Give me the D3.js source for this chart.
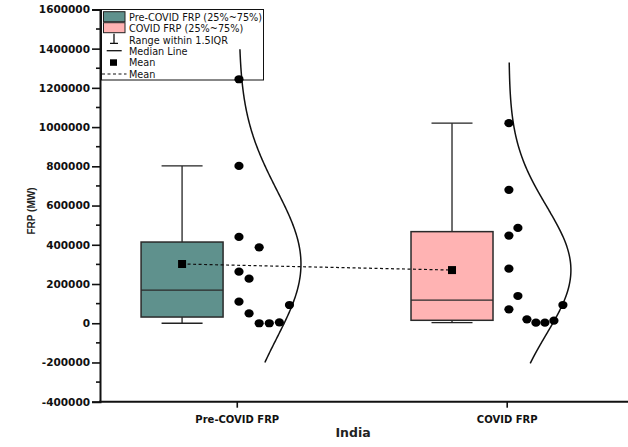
<!DOCTYPE html>
<html><head><meta charset="utf-8">
<script src="https://cdn.jsdelivr.net/npm/d3@7"></script>
<style>body{margin:0;background:#fff}svg{display:block}</style>
</head><body>
<svg id="chart" width="628" height="447"></svg>
<script>
const categories = ["Pre-COVID FRP", "COVID FRP"];
const seriesNames = ["Pre-COVID FRP (25%~75%)", "COVID FRP (25%~75%)"];
const boxColors = ["#5f918d", "#ffb3b3"];
const q1 = [31600, 15000];
const medians = [169000, 118000];
const q3 = [414000, 467000];
const whiskerLow = [0, 3000];
const whiskerHigh = [802000, 1020000];
const means = [302000, 271000];
const preValues = [1244000, 802000, 440000, 387000, 263000, 227000, 110000, 50000, 0, 0, 4600, 93000];
const preSlots = [0, 0, 0, 2, 0, 1, 0, 1, 2, 3, 4, 5];
const covidValues = [1020000, 680000, 486000, 447000, 278000, 139000, 71000, 20000, 3000, 3000, 13000, 93000];
const covidSlots = [0, 0, 1, 0, 0, 1, 0, 2, 3, 4, 5, 6];
const curveLow = [-200000, -205000];
const curveHigh = [1397000, 1329000];
const yTickValues = [-400000, -200000, 0, 200000, 400000, 600000, 800000, 1000000, 1200000, 1400000, 1600000];
const xTitle = "India";
const yTitle = "FRP (MW)";

(function () {
const svg = d3.select("#chart");
const pLeft = 100, pRight = 628, pTop = 9.4, pBottom = 401.7;
const y = d3.scaleLinear().domain([-400000, 1600000]).range([pBottom, pTop]);
const x = d3.scalePoint().domain(categories).range([pLeft, pRight]).padding(0.478).align(0.53);
const boxOffset = -54.7, boxW = 82, dotOffset = 2.2, curveAmp = 62;
const slotWidths = [10.1, 9.0];

const groups = [
  {values: preValues, slots: preSlots},
  {values: covidValues, slots: covidSlots}
];

// Y axis
const yAxis = d3.axisLeft(y).tickValues(yTickValues).tickFormat(d => String(d)).tickSize(8).tickPadding(2);
const gy = svg.append("g").attr("transform", `translate(${pLeft},0)`).call(yAxis);
gy.select(".domain").attr("stroke-width", 2).attr("stroke", "#111");
gy.selectAll(".tick line").attr("stroke-width", 1.6).attr("stroke", "#111");
gy.selectAll(".tick text").attr("font-family", "DejaVu Sans").attr("font-weight", "bold").attr("font-size", "10.5px").attr("fill", "#111");
const minor = d3.range(-300000, 1600000, 200000);
svg.append("g").selectAll("line").data(minor).join("line")
  .attr("x1", pLeft - 4).attr("x2", pLeft).attr("y1", d => y(d)).attr("y2", d => y(d))
  .attr("stroke", "#111").attr("stroke-width", 1.6);

// X axis
const xAxis = d3.axisBottom(x).tickSize(6).tickPadding(8);
const gx = svg.append("g").attr("transform", `translate(0,${pBottom})`).call(xAxis);
gx.select(".domain").attr("d", `M${pLeft - 1},0H${pRight}`).attr("stroke-width", 2).attr("stroke", "#111");
gx.selectAll(".tick line").attr("stroke-width", 1.6).attr("stroke", "#111");
gx.selectAll(".tick text").attr("font-family", "DejaVu Sans").attr("font-weight", "bold").attr("font-size", "10px").attr("fill", "#111");

svg.append("text").attr("x", 353).attr("y", 437).attr("text-anchor", "middle")
  .attr("font-family", "DejaVu Sans").attr("font-weight", "bold").attr("font-size", "12.5px").attr("fill", "#222").text(xTitle);
svg.append("text").attr("transform", `translate(35,211) rotate(-90)`).attr("text-anchor", "middle")
  .attr("font-family", "Liberation Sans").attr("font-weight", "bold").attr("font-size", "10px").attr("fill", "#222").text(yTitle);

// Legend
const lg = svg.append("g");
lg.append("rect").attr("x", 101.5).attr("y", 9.5).attr("width", 162).attr("height", 70.5)
  .attr("fill", "#fff").attr("stroke", "#111").attr("stroke-width", 1);
const legFont = t => t.attr("font-family", "DejaVu Sans").attr("font-size", "9.7px").attr("fill", "#111");
[0, 1].forEach(i => {
  lg.append("rect").attr("x", 103.5).attr("y", 11.7 + i * 11).attr("width", 21.5).attr("height", 10)
    .attr("fill", boxColors[i]).attr("stroke", "#222").attr("stroke-width", 1);
  legFont(lg.append("text").attr("x", 129).attr("y", 20.5 + i * 11).text(seriesNames[i]));
});
lg.append("path").attr("d", "M114,33.7V43.3M110,43.3H118").attr("stroke", "#111").attr("stroke-width", 1.3).attr("fill", "none");
legFont(lg.append("text").attr("x", 129).attr("y", 43.5).text("Range within 1.5IQR"));
lg.append("line").attr("x1", 106.7).attr("x2", 121.7).attr("y1", 50.7).attr("y2", 50.7).attr("stroke", "#111").attr("stroke-width", 1.3);
legFont(lg.append("text").attr("x", 129).attr("y", 54.5).text("Median Line"));
lg.append("rect").attr("x", 110).attr("y", 59.3).attr("width", 7).attr("height", 6.5).attr("fill", "#000");
legFont(lg.append("text").attr("x", 129).attr("y", 66).text("Mean"));
lg.append("line").attr("x1", 102).attr("x2", 126.5).attr("y1", 74).attr("y2", 74).attr("stroke", "#111").attr("stroke-width", 1.2).attr("stroke-dasharray", "3,2.5");
legFont(lg.append("text").attr("x", 129).attr("y", 77.5).text("Mean"));

// Boxes
categories.forEach((c, i) => {
  const cx = x(c) + boxOffset;
  const g = svg.append("g");
  g.append("line").attr("x1", cx).attr("x2", cx).attr("y1", y(whiskerHigh[i])).attr("y2", y(q3[i])).attr("stroke", "#222").attr("stroke-width", 1.3);
  g.append("line").attr("x1", cx).attr("x2", cx).attr("y1", y(q1[i])).attr("y2", y(whiskerLow[i])).attr("stroke", "#222").attr("stroke-width", 1.3);
  [whiskerHigh[i], whiskerLow[i]].forEach(v => g.append("line").attr("x1", cx - boxW / 4).attr("x2", cx + boxW / 4)
    .attr("y1", y(v)).attr("y2", y(v)).attr("stroke", "#222").attr("stroke-width", 1.3));
  g.append("rect").attr("x", cx - boxW / 2).attr("y", y(q3[i])).attr("width", boxW).attr("height", y(q1[i]) - y(q3[i]))
    .attr("fill", boxColors[i]).attr("stroke", "#2a2a2a").attr("stroke-width", 1.5);
  g.append("line").attr("x1", cx - boxW / 2).attr("x2", cx + boxW / 2).attr("y1", y(medians[i])).attr("y2", y(medians[i]))
    .attr("stroke", "#2a2a2a").attr("stroke-width", 1.4);
});

// Mean connector
svg.append("line").attr("x1", x(categories[0]) + boxOffset).attr("y1", y(means[0]))
  .attr("x2", x(categories[1]) + boxOffset).attr("y2", y(means[1]))
  .attr("stroke", "#111").attr("stroke-width", 1.2).attr("stroke-dasharray", "3,2.5");
categories.forEach((c, i) => {
  svg.append("rect").attr("x", x(c) + boxOffset - 4).attr("y", y(means[i]) - 4).attr("width", 8).attr("height", 8).attr("fill", "#000");
});

// Distribution curves and dots
groups.forEach((g, i) => {
  const base = x(categories[i]) + dotOffset;
  const slot = d3.scaleLinear().domain([0, 1]).range([0, slotWidths[i]]);
  const mu = d3.mean(g.values), sd = d3.deviation(g.values);
  const vs = d3.range(0, 201).map(k => curveLow[i] + (curveHigh[i] - curveLow[i]) * k / 200);
  const line = d3.line().x(v => base + curveAmp * Math.exp(-((v - mu) ** 2) / (2 * sd * sd))).y(v => y(v)).curve(d3.curveBasis);
  svg.append("path").datum(vs).attr("d", line).attr("fill", "none").attr("stroke", "#111").attr("stroke-width", 1.5);
  svg.append("g").selectAll("ellipse").data(g.values).join("ellipse")
    .attr("cx", (d, j) => base + slot(g.slots[j])).attr("cy", d => y(d))
    .attr("rx", 4.6).attr("ry", 4.1).attr("fill", "#000");
});
})();
</script>
</body></html>
